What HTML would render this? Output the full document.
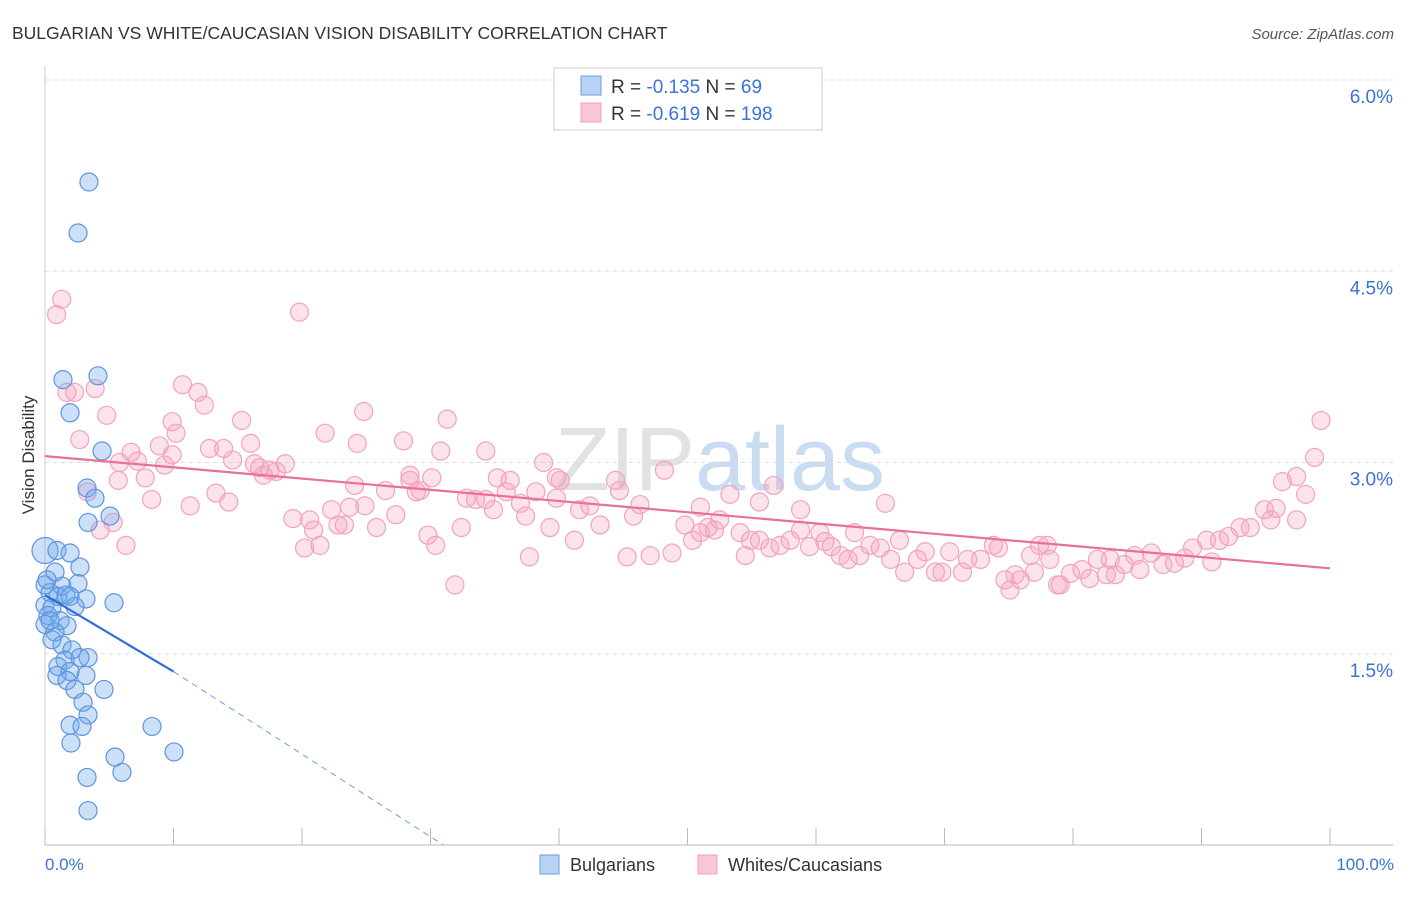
<!DOCTYPE html>
<html><head><meta charset="utf-8">
<style>
html,body{margin:0;padding:0;background:#fff;}
body{width:1406px;height:892px;overflow:hidden;font-family:"Liberation Sans",sans-serif;}
svg text{font-family:"Liberation Sans",sans-serif;}
</style></head>
<body>
<svg id="chart" width="1406" height="892" viewBox="0 0 1406 892" xmlns="http://www.w3.org/2000/svg">
<text x="12" y="39" font-size="17.5" fill="#333">BULGARIAN VS WHITE/CAUCASIAN VISION DISABILITY CORRELATION CHART</text>
<text x="1394" y="39" font-size="15" fill="#555" font-style="italic" text-anchor="end">Source: ZipAtlas.com</text>
<text x="720" y="490" font-size="90" fill="#d8e4f2" text-anchor="middle" font-family="Liberation Serif"><tspan fill="#e2e2e2">ZIP</tspan><tspan font-family="Liberation Sans" fill="#c9dcf2">atlas</tspan></text>
<text transform="translate(34,455) rotate(-90)" font-size="17" fill="#333" text-anchor="middle">Vision Disability</text>
<g id="grid"></g>
<g id="axes"></g>
<g id="pink-points"></g>
<g id="blue-points"></g>
<g id="trends"></g>
<g>
<rect x="554" y="68" width="268" height="62" fill="#fff" stroke="#ccc"/>
<rect x="581" y="76" width="20" height="19" fill="#b8d2f4" stroke="#6a9fe0"/>
<rect x="581" y="103" width="20" height="19" fill="#f8c6d6" stroke="#f0a0bc"/>
<text x="611" y="93" font-size="19" fill="#333">R = <tspan fill="#3b73d6">-0.135</tspan>   N = <tspan fill="#3b73d6"> 69</tspan></text>
<text x="611" y="120" font-size="19" fill="#333">R = <tspan fill="#3b73d6">-0.619</tspan>   N = <tspan fill="#3b73d6">198</tspan></text>
</g>
<g>
<rect x="540" y="855" width="19" height="19" fill="#b8d2f4" stroke="#6a9fe0"/>
<text x="570" y="871" font-size="18" fill="#333">Bulgarians</text>
<rect x="698" y="855" width="19" height="19" fill="#f8c6d6" stroke="#f0a0bc"/>
<text x="728" y="871" font-size="18" fill="#333">Whites/Caucasians</text>
</g>
<text x="45" y="870" font-size="17" fill="#3b73d6">0.0%</text>
<text x="1394" y="870" font-size="17" fill="#3b73d6" text-anchor="end">100.0%</text>
</svg>
<script>
const yTicks=[1.5,3.0,4.5,6.0];
const yTickLabels=["1.5%","3.0%","4.5%","6.0%"];
const xTicks=[0,10,20,30,40,50,60,70,80,90,100];
const blueX=[3.42,2.57,1.40,4.12,1.95,4.44,3.27,3.89,5.06,3.35,0,0.93,1.95,0.78,2.72,0,1.32,2.57,0.39,1.01,1.63,1.95,3.19,5.37,0,0.54,2.33,0.23,1.17,0,1.71,0.78,1.32,2.10,3.35,1.56,2.72,1.01,1.95,0.93,1.71,3.19,2.33,4.59,2.96,3.35,1.95,2.88,8.33,2.02,5.45,10.04,5.99,3.27,3.35,0.16,0.39,0.54];
const blueY=[5.20,4.80,3.65,3.68,3.39,3.09,2.80,2.72,2.58,2.53,2.31,2.31,2.29,2.14,2.18,2.04,2.03,2.05,1.98,1.95,1.96,1.95,1.93,1.90,1.88,1.86,1.87,1.80,1.76,1.73,1.72,1.67,1.57,1.53,1.47,1.45,1.47,1.40,1.36,1.33,1.29,1.33,1.22,1.22,1.12,1.02,0.94,0.93,0.93,0.80,0.69,0.73,0.57,0.53,0.27,2.08,1.76,1.61];
const pinkX=[0.9,1.3,19.8,2.3,1.7,3.9,4.8,10.7,11.9,12.4,9.9,15.3,24.8,31.3,2.7,5.7,6.7,8.9,9.3,10.2,12.8,13.9,16.0,16.7,18.7,17.5,17.0,18.0,21.8,24.3,27.9,30.8,34.3,38.8,39.8,48.2,56.7,65.4,99.3,98.8,97.4,96.3,98.1,95.8,94.9,97.4,95.4,93.8,93.0,92.1,91.4,90.4,89.3,90.8,88.7,87.9,87.0,86.1,85.2,84.8,84.0,83.3,82.6,81.9,81.3,80.7,79.8,78.8,78.2,78.0,77.4,77.0,76.7,75.9,75.5,74.7,74.2,73.8,72.8,71.8,71.4,70.4,69.8,69.3,68.5,67.9,66.9,66.5,65.8,65.0,64.2,63.4,63.0,62.5,61.9,61.2,60.7,60.3,59.5,58.8,58.0,57.2,56.4,55.6,54.9,54.5,54.1,53.3,52.5,52.1,51.6,51.0,50.4,49.8,48.8,47.1,46.3,45.8,45.3,44.7,44.4,43.2,42.4,41.6,41.2,40.1,39.8,39.3,38.2,37.7,37.4,37.0,36.2,35.9,35.2,34.9,34.3,33.5,32.8,32.4,31.9,30.4,30.1,29.8,28.9,28.4,27.3,26.5,25.8,24.9,24.1,23.7,23.3,22.8,22.3,21.4,20.9,20.6,20.2,19.3,16.3,14.3,13.3,11.3,9.9,8.3,7.8,6.3,5.3,4.3,3.3,5.8,7.2,14.6,28.4,29.2,51.0,55.6,58.8,75.1,79.0,82.9];
const pinkY=[4.16,4.28,4.18,3.55,3.55,3.58,3.37,3.61,3.55,3.45,3.32,3.33,3.40,3.34,3.18,2.86,3.08,3.13,2.98,3.23,3.11,3.11,3.15,2.96,2.99,2.94,2.90,2.93,3.23,3.15,3.17,3.09,3.09,3.00,2.88,2.94,2.82,2.68,3.33,3.04,2.89,2.85,2.75,2.64,2.63,2.55,2.55,2.49,2.49,2.42,2.39,2.39,2.33,2.22,2.25,2.21,2.20,2.29,2.16,2.27,2.20,2.12,2.12,2.24,2.09,2.16,2.13,2.04,2.24,2.35,2.35,2.14,2.27,2.08,2.12,2.08,2.33,2.35,2.24,2.24,2.14,2.30,2.14,2.14,2.30,2.24,2.14,2.39,2.24,2.33,2.35,2.27,2.45,2.24,2.27,2.34,2.38,2.45,2.34,2.47,2.39,2.35,2.33,2.39,2.39,2.27,2.45,2.75,2.55,2.47,2.49,2.45,2.39,2.51,2.29,2.27,2.67,2.58,2.26,2.78,2.86,2.51,2.66,2.63,2.39,2.86,2.72,2.49,2.77,2.26,2.58,2.68,2.86,2.77,2.88,2.63,2.71,2.71,2.72,2.49,2.04,2.35,2.88,2.43,2.77,2.86,2.59,2.78,2.49,2.66,2.82,2.65,2.51,2.51,2.63,2.35,2.47,2.55,2.33,2.56,2.99,2.69,2.76,2.66,3.06,2.71,2.88,2.35,2.53,2.47,2.77,3.00,3.01,3.02,2.90,2.78,2.65,2.69,2.63,2.00,2.04,2.24];
const trendBlue=[[0,1.96],[10,1.36]];
const trendBlueDash=[[10,1.36],[31,0]];
const trendPink=[[0,3.05],[100,2.17]];

const X0=45,X1=1330,YB=845,PPU=127.5;
const sx=v=>X0+(X1-X0)*v/100;
const sy=v=>YB-v*PPU;
const NS="http://www.w3.org/2000/svg";
function mk(tag,attrs,parent){const e=document.createElementNS(NS,tag);for(const k in attrs)e.setAttribute(k,attrs[k]);parent.appendChild(e);return e;}
const grid=document.getElementById('grid');
yTicks.forEach((t,i)=>{
  const l=mk('line',{x1:45,x2:1393,y1:sy(t),y2:sy(t),stroke:'#ddd','stroke-dasharray':'4,4'},grid);
  
  
  const tx=mk('text',{x:1393,y:sy(t)+23,'font-size':19,fill:'#3b73d6','text-anchor':'end'},grid);
  tx.textContent=yTickLabels[i];
  
  
});
const axes=document.getElementById('axes');
const yl=mk('line',{x1:45,x2:45,y1:66,y2:845,stroke:'#ccc'},axes);


const xl=mk('line',{x1:45,x2:1393,y1:845,y2:845,stroke:'#bbb'},axes);


xTicks.forEach(t=>{
  const l=mk('line',{x1:sx(t),x2:sx(t),y1:828,y2:845,stroke:'#bbb'},axes);
  
  
});
const pg=document.getElementById('pink-points');
pinkX.forEach((x,i)=>{
  const c=mk('circle',{cx:sx(x),cy:sy(pinkY[i]),r:9,fill:'rgba(244,160,190,0.3)',stroke:'#f2a3bf','stroke-width':1.2},pg);
  
  
});
const bg=document.getElementById('blue-points');
blueX.forEach((x,i)=>{
  const c=mk('circle',{cx:sx(x),cy:sy(blueY[i]),r:(i===10?13:9),fill:'rgba(110,165,235,0.35)',stroke:'#5d95e0','stroke-width':1.2},bg);
  
  
});
const tg=document.getElementById('trends');
const tp=mk('line',{x1:sx(trendPink[0][0]),y1:sy(trendPink[0][1]),x2:sx(trendPink[1][0]),y2:sy(trendPink[1][1]),stroke:'#e8709a','stroke-width':2.2},tg);


const tb=mk('line',{x1:sx(trendBlue[0][0]),y1:sy(trendBlue[0][1]),x2:sx(trendBlue[1][0]),y2:sy(trendBlue[1][1]),stroke:'#2f6fd6','stroke-width':2.2},tg);


const td=mk('line',{x1:sx(trendBlueDash[0][0]),y1:sy(trendBlueDash[0][1]),x2:sx(trendBlueDash[1][0]),y2:sy(trendBlueDash[1][1]),stroke:'#6a9fe0','stroke-width':1,'stroke-dasharray':'6,5'},tg);


</script>
</body></html>
